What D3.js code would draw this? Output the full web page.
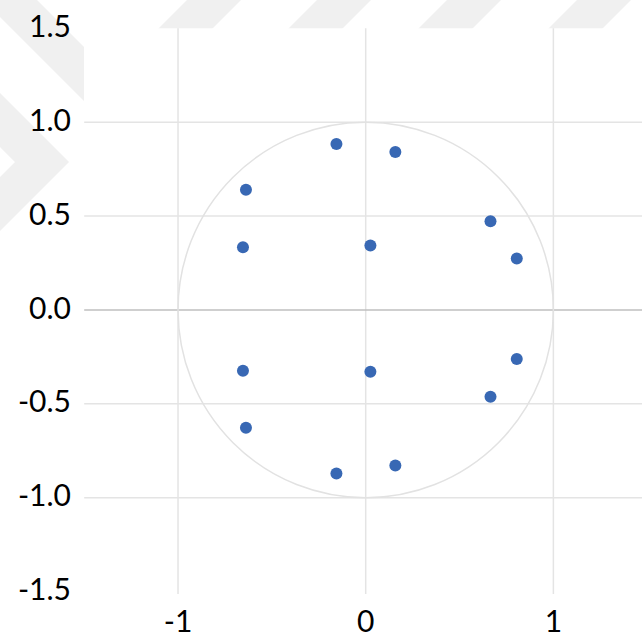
<!DOCTYPE html>
<html>
<head>
<meta charset="utf-8">
<script src="https://cdn.jsdelivr.net/npm/d3@7"></script>
<style>
  html, body { margin: 0; padding: 0; background: #fff; }
  svg { display: block; }
  .tick-label { font-family: Lato, "Open Sans", sans-serif; font-size: 30px; fill: #000; }
</style>
</head>
<body>
<svg id="chart" width="642" height="639"></svg>
<script>
'use strict';

// points
const pointX = [-0.156, 0.158, 0.025, 0.665, 0.805, -0.638, -0.654,
                -0.654, -0.638, 0.025, 0.805, 0.665, -0.156, 0.158];
const pointY = [0.884, 0.841, 0.343, 0.473, 0.274, 0.640, 0.334,
                -0.324, -0.628, -0.329, -0.261, -0.462, -0.871, -0.828];
const xTicks = [-1, 0, 1];
const yTicks = [1.5, 1.0, 0.5, 0.0, -0.5, -1.0, -1.5];
const circleRadius = 1;

const svg = d3.select("#chart");
const W = 642, H = 639;

const x = d3.scaleLinear().domain([-1.5, 1.5]).range([84.2, 647.2]);
const y = d3.scaleLinear().domain([-1.5, 1.5]).range([591.6, 28.3]);

// faint watermark behind the plot (diagonal bands, clipped by the plot)
const wm = svg.append("g").attr("fill", "#f0f0f0");
d3.range(4).forEach(i => {
  const x0 = 158 + 130 * i;
  wm.append("polygon").attr("points", `${x0},29 ${x0 + 54},29 ${x0 + 83},0 ${x0 + 29},0`);
});
// ">" chevrons on the left strip
wm.append("polygon").attr("points", "0,93 69,162 0,231 0,177 15,162 0,147");
wm.append("polygon").attr("points", "0,-37 84,47 84,101 0,17");

// plot area
svg.append("rect")
  .attr("x", x(-1.5)).attr("y", y(1.5))
  .attr("width", W - x(-1.5)).attr("height", 594 - y(1.5))
  .attr("fill", "#fff");

// horizontal gridlines
svg.append("g").selectAll("line")
  .data(yTicks.filter(d => d !== 0 && Math.abs(d) !== 1.5))
  .join("line")
  .attr("x1", x(-1.5)).attr("x2", W)
  .attr("y1", d => y(d)).attr("y2", d => y(d))
  .attr("stroke", "#e4e4e4").attr("stroke-width", 1.5);

// vertical gridlines
svg.append("g").selectAll("line")
  .data(xTicks)
  .join("line")
  .attr("x1", d => x(d)).attr("x2", d => x(d))
  .attr("y1", y(1.5)).attr("y2", 594)
  .attr("stroke", "#e4e4e4").attr("stroke-width", 1.5);

// zero axis line
svg.append("line")
  .attr("x1", x(-1.5)).attr("x2", W)
  .attr("y1", y(0)).attr("y2", y(0))
  .attr("stroke", "#bfbfbf").attr("stroke-width", 1.5);

// unit circle
svg.append("ellipse")
  .attr("cx", x(0)).attr("cy", y(0))
  .attr("rx", x(circleRadius) - x(0)).attr("ry", y(0) - y(circleRadius))
  .attr("fill", "none")
  .attr("stroke", "#e2e2e2").attr("stroke-width", 1.5);

// points
svg.append("g").selectAll("circle")
  .data(pointX.map((d, i) => [d, pointY[i]]))
  .join("circle")
  .attr("cx", d => x(d[0])).attr("cy", d => y(d[1]))
  .attr("r", 6)
  .attr("fill", "#3868b4");

// y tick labels
svg.append("g").selectAll("text")
  .data(yTicks)
  .join("text")
  .attr("class", "tick-label")
  .attr("x", 71).attr("y", d => y(d) + 8.6)
  .attr("text-anchor", "end")
  .text(d => d3.format(".1f")(d).replace("−", "-"));

// x tick labels
svg.append("g").selectAll("text")
  .data(xTicks)
  .join("text")
  .attr("class", "tick-label")
  .attr("x", d => x(d)).attr("y", 632)
  .attr("text-anchor", "middle")
  .text(d => String(d));
</script>
</body>
</html>
